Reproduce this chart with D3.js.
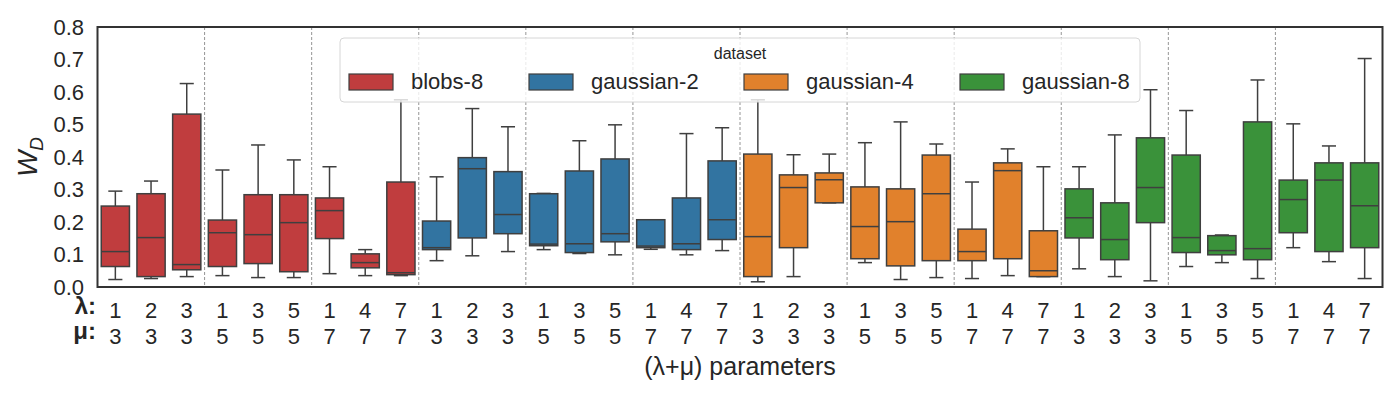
<!DOCTYPE html>
<html>
<head>
<meta charset="utf-8">
<script src="https://cdn.jsdelivr.net/npm/d3@7"></script>
<style>
  body { margin: 0; background: #fff; }
  text { font-family: "Liberation Sans", Arial, sans-serif; fill: #262626; }
</style>
</head>
<body>
<script>
// data
var datasets = ["blobs-8", "gaussian-2", "gaussian-4", "gaussian-8"];
var colors = ["#c03d3e", "#3274a1", "#e1812c", "#3a923a"];
var lambdas = [1, 2, 3, 1, 3, 5, 1, 4, 7];
var mus = [3, 3, 3, 5, 5, 5, 7, 7, 7];
var yTicks = [0, 0.1, 0.2, 0.3, 0.4, 0.5, 0.6, 0.7, 0.8];

// each row: [whisker low, q1, median, q3, whisker high]
var blobs8 = [
  [0.023, 0.063, 0.109, 0.249, 0.295],
  [0.026, 0.032, 0.152, 0.287, 0.326],
  [0.032, 0.053, 0.069, 0.532, 0.626],
  [0.035, 0.063, 0.167, 0.206, 0.360],
  [0.029, 0.072, 0.161, 0.284, 0.437],
  [0.029, 0.047, 0.198, 0.284, 0.391],
  [0.041, 0.149, 0.235, 0.274, 0.370],
  [0.035, 0.059, 0.075, 0.102, 0.115],
  [0.035, 0.038, 0.044, 0.323, 0.576]
];
var gaussian2 = [
  [0.081, 0.115, 0.121, 0.203, 0.339],
  [0.096, 0.151, 0.364, 0.398, 0.549],
  [0.109, 0.164, 0.223, 0.355, 0.493],
  [0.115, 0.127, 0.132, 0.287, 0.288],
  [0.103, 0.106, 0.133, 0.357, 0.450],
  [0.099, 0.139, 0.164, 0.394, 0.499],
  [0.116, 0.121, 0.126, 0.207, 0.207],
  [0.099, 0.115, 0.133, 0.274, 0.472],
  [0.112, 0.146, 0.207, 0.388, 0.490]
];
var gaussian4 = [
  [0.016, 0.032, 0.155, 0.409, 0.576],
  [0.032, 0.121, 0.306, 0.345, 0.407],
  [0.259, 0.259, 0.330, 0.351, 0.409],
  [0.075, 0.087, 0.186, 0.308, 0.444],
  [0.023, 0.065, 0.201, 0.302, 0.508],
  [0.029, 0.081, 0.287, 0.406, 0.440],
  [0.026, 0.081, 0.109, 0.178, 0.323],
  [0.035, 0.087, 0.358, 0.382, 0.425],
  [0.032, 0.032, 0.050, 0.173, 0.370]
];
var gaussian8 = [
  [0.056, 0.151, 0.213, 0.302, 0.370],
  [0.032, 0.084, 0.146, 0.259, 0.468],
  [0.019, 0.198, 0.306, 0.459, 0.607],
  [0.063, 0.106, 0.152, 0.406, 0.543],
  [0.075, 0.099, 0.112, 0.158, 0.160],
  [0.026, 0.084, 0.118, 0.508, 0.637],
  [0.121, 0.167, 0.269, 0.329, 0.502],
  [0.078, 0.109, 0.329, 0.382, 0.434],
  [0.026, 0.121, 0.250, 0.382, 0.703]
];
var allStats = [blobs8, gaussian2, gaussian4, gaussian8];

window.onload = function(){

    var W = 1400, H = 400;
    var left = 97.5, right = 1382.5, top = 27, bottom = 287;

    var svg = d3.select("body").append("svg")
        .attr("width", W)
        .attr("height", H);

    // flatten into one row per box
    var boxes = [];
    allStats.forEach(function(rows, di){
        rows.forEach(function(s, pi){
            boxes.push({ds: di, p: pi, id: di * 9 + pi, s: s});
        });
    });

    var x = d3.scaleBand()
        .domain(boxes.map(function(d){ return d.id; }))
        .range([left, right]);
    var y = d3.scaleLinear().domain([0, 0.8]).range([bottom, top]);

    var bw = x.bandwidth() * 0.79;
    var capW = bw * 0.5;

    // dashed separators every 3 boxes
    var seps = d3.range(3, 36, 3);
    svg.append("g").selectAll("line")
        .data(seps).join("line")
        .attr("x1", function(d){ return x(d); })
        .attr("x2", function(d){ return x(d); })
        .attr("y1", top).attr("y2", bottom)
        .attr("stroke", "#7a7a7a")
        .attr("stroke-width", 0.8)
        .attr("stroke-dasharray", "3,2");

    var g = svg.append("g").selectAll("g")
        .data(boxes).join("g")
        .attr("transform", function(d){ return "translate(" + (x(d.id) + x.bandwidth() / 2) + ",0)"; });

    var lineCol = "#3f3f3f";

    // whiskers
    g.append("line")
        .attr("x1", 0).attr("x2", 0)
        .attr("y1", function(d){ return y(d.s[3]); })
        .attr("y2", function(d){ return y(d.s[4]); })
        .attr("stroke", lineCol).attr("stroke-width", 1.5);
    g.append("line")
        .attr("x1", 0).attr("x2", 0)
        .attr("y1", function(d){ return y(d.s[1]); })
        .attr("y2", function(d){ return y(d.s[0]); })
        .attr("stroke", lineCol).attr("stroke-width", 1.5);
    // caps
    [0, 4].forEach(function(k){
        g.append("line")
            .attr("x1", -capW / 2).attr("x2", capW / 2)
            .attr("y1", function(d){ return y(d.s[k]); })
            .attr("y2", function(d){ return y(d.s[k]); })
            .attr("stroke", lineCol).attr("stroke-width", 1.5);
    });
    // boxes
    g.append("rect")
        .attr("x", -bw / 2)
        .attr("width", bw)
        .attr("y", function(d){ return y(d.s[3]); })
        .attr("height", function(d){ return Math.max(0.5, y(d.s[1]) - y(d.s[3])); })
        .attr("fill", function(d){ return colors[d.ds]; })
        .attr("stroke", lineCol).attr("stroke-width", 1.5);
    // medians
    g.append("line")
        .attr("x1", -bw / 2).attr("x2", bw / 2)
        .attr("y1", function(d){ return y(d.s[2]); })
        .attr("y2", function(d){ return y(d.s[2]); })
        .attr("stroke", lineCol).attr("stroke-width", 1.5);

    // frame
    svg.append("rect")
        .attr("x", left).attr("y", top)
        .attr("width", right - left).attr("height", bottom - top)
        .attr("fill", "none").attr("stroke", "#333").attr("stroke-width", 2);

    // y ticks
    svg.append("g").selectAll("text")
        .data(yTicks).join("text")
        .attr("x", 84)
        .attr("y", function(d){ return y(d); })
        .attr("dy", "0.36em")
        .attr("text-anchor", "end")
        .style("font-size", "22px")
        .text(function(d){ return d.toFixed(1); });

    // y label W_D
    var yl = svg.append("text")
        .attr("transform", "translate(37,157) rotate(-90)")
        .attr("text-anchor", "middle")
        .style("font-size", "28px");
    yl.append("tspan").style("font-style", "italic").text("W");
    yl.append("tspan").style("font-style", "italic").style("font-size", "19px")
        .attr("dy", 6).text("D");

    // x tick rows
    svg.append("g").selectAll("text")
        .data(boxes).join("text")
        .attr("x", function(d){ return x(d.id) + x.bandwidth() / 2; })
        .attr("y", 318)
        .attr("text-anchor", "middle")
        .style("font-size", "22px")
        .text(function(d){ return lambdas[d.p]; });
    svg.append("g").selectAll("text")
        .data(boxes).join("text")
        .attr("x", function(d){ return x(d.id) + x.bandwidth() / 2; })
        .attr("y", 344)
        .attr("text-anchor", "middle")
        .style("font-size", "22px")
        .text(function(d){ return mus[d.p]; });
    svg.append("text").attr("x", 96).attr("y", 314)
        .attr("text-anchor", "end").style("font-size", "24px").style("font-weight", "bold")
        .text("λ:");
    svg.append("text").attr("x", 96).attr("y", 339)
        .attr("text-anchor", "end").style("font-size", "24px").style("font-weight", "bold")
        .text("μ:");

    // x label
    svg.append("text")
        .attr("x", (left + right) / 2).attr("y", 375)
        .attr("text-anchor", "middle")
        .style("font-size", "25px")
        .text("(λ+μ) parameters");

    // legend
    var leg = svg.append("g");
    leg.append("rect")
        .attr("x", 340).attr("y", 38)
        .attr("width", 800).attr("height", 64)
        .attr("rx", 4)
        .attr("fill", "#fff").attr("fill-opacity", 0.8)
        .attr("stroke", "#d6d6d6").attr("stroke-width", 1);
    leg.append("text")
        .attr("x", 740).attr("y", 59)
        .attr("text-anchor", "middle")
        .style("font-size", "16px")
        .text("dataset");
    var legX = [349, 529, 744, 960];
    var items = leg.selectAll("g.item")
        .data(datasets).join("g")
        .attr("class", "item")
        .attr("transform", function(d, i){ return "translate(" + legX[i] + ",0)"; });
    items.append("rect")
        .attr("x", 0).attr("y", 74)
        .attr("width", 44).attr("height", 16)
        .attr("fill", function(d, i){ return colors[i]; })
        .attr("stroke", lineCol).attr("stroke-width", 1.2);
    items.append("text")
        .attr("x", 62).attr("y", 89)
        .style("font-size", "22px")
        .text(function(d){ return d; });
};
</script>
</body>
</html>
